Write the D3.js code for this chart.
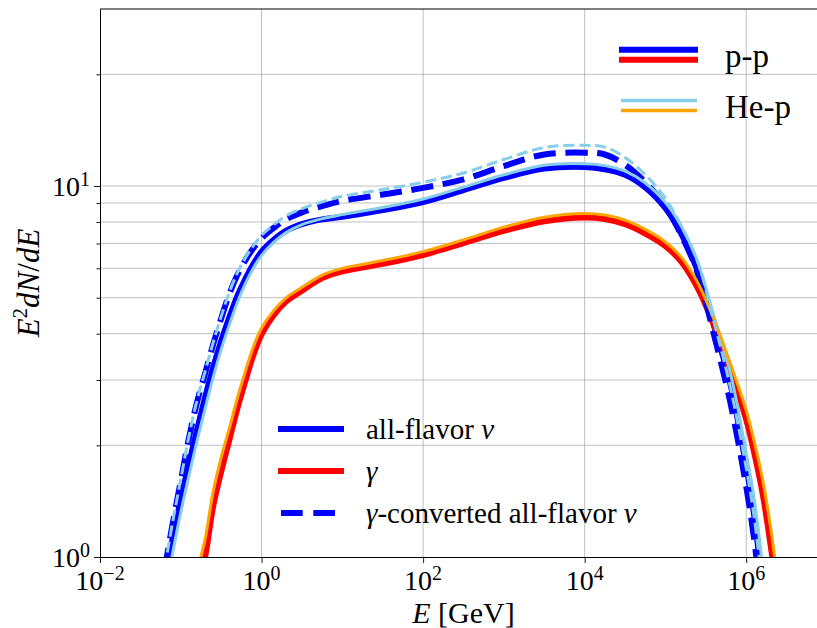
<!DOCTYPE html>
<html><head><meta charset="utf-8">
<script src="https://cdn.jsdelivr.net/npm/d3@7"></script>
<style>
body{margin:0;background:#fff}
svg{display:block}
text{font-family:"Liberation Serif","DejaVu Serif",serif;fill:#000}
</style>
</head><body>
<svg id="chart" width="817" height="628"></svg>
<script>
// ---------------- data ----------------
const energyGeV = [0.0631, 0.0794, 0.1, 0.126, 0.158, 0.2, 0.251, 0.316, 0.398, 0.501, 0.631, 0.794, 1,
  1.413, 1.995, 3.162, 5.623, 10, 31.62, 100, 316.2, 1000, 3162, 1e4,
  17783, 31623, 56234, 1e5, 158489, 251189, 398107, 630957, 1e6, 1258925, 1584893, 1995262, 2511886];

const ppNu = [0.881, 1.122, 1.429, 1.778, 2.188, 2.692, 3.236, 3.819, 4.416, 5.047, 5.623, 6.166, 6.653,
  7.161, 7.568, 7.889, 8.128, 8.260, 8.610, 9.057, 9.750, 10.52, 11.14, 11.25,
  11.09, 10.72, 9.91, 8.71, 7.41, 5.89, 4.217, 2.951, 1.758, 1.288, 0.832, null, null];

const ppGamma = [null, null, null, null, 0.794, 1.000, 1.365, 1.698, 2.065, 2.512, 2.985, 3.508, 3.981,
  4.487, 4.875, 5.224, 5.649, 5.888, 6.166, 6.516, 7.015, 7.568, 8.035, 8.222,
  8.147, 7.889, 7.447, 6.887, 6.237, 5.309, 4.217, 3.199, 2.344, 1.905, 1.496, 1.084, 0.741];

const ppGammaNu = [0.923, 1.230, 1.603, 2.089, 2.600, 3.126, 3.733, 4.395, 5.105, 5.754, 6.310, 6.808, 7.228,
  7.709, 8.128, 8.492, 8.831, 9.120, 9.484, 9.886, 10.42, 11.32, 12.16, 12.30,
  12.16, 11.40, 10.23, 8.81, 7.35, 5.82, 3.98, 2.63, 1.549, 1.109, 0.708, null, null];

const heNu = [0.803, 1.028, 1.318, 1.652, 2.042, 2.512, 3.041, 3.622, 4.217, 4.853, 5.458, 6.012, 6.501,
  7.047, 7.482, 7.870, 8.166, 8.375, 8.750, 9.226, 9.931, 10.72, 11.38, 11.48,
  11.35, 10.96, 10.19, 9.02, 7.76, 6.24, 4.467, 3.162, 1.905, 1.429, 0.955, 0.603, null];

const heGamma = [null, null, null, null, 0.912, 1.117, 1.496, 1.854, 2.218, 2.679, 3.170, 3.690, 4.140,
  4.613, 4.989, 5.333, 5.754, 5.998, 6.295, 6.653, 7.161, 7.745, 8.241, 8.433,
  8.356, 8.091, 7.638, 7.063, 6.412, 5.483, 4.375, 3.342, 2.483, 2.042, 1.629, 1.208, 0.832];

const heGammaNu = [0.934, 1.244, 1.622, 2.113, 2.630, 3.162, 3.776, 4.446, 5.164, 5.83, 6.40, 6.91, 7.36,
  7.86, 8.30, 8.69, 9.06, 9.38, 9.78, 10.24, 10.84, 11.79, 12.70, 12.87,
  12.73, 11.94, 10.73, 9.26, 7.78, 6.24, 4.31, 2.89, 1.738, 1.274, 0.832, null, null];

const xTickValues = [1e-2, 1, 1e2, 1e4, 1e6];
const xTickExponents = ["\u22122", "0", "2", "4", "6"];
const yTickValues = [1, 10];
const yTickExponents = ["0", "1"];
const yMinorTicks = [2, 3, 4, 5, 6, 7, 8, 9, 20];

// ---------------- layout ----------------
const svg = d3.select("#chart");
const L = 100, R = 827, T = 9, B = 557;
const x = d3.scaleLog().domain([1e-2, 1e7]).range([L, R]);
const y = d3.scaleLog().domain([1, 30]).range([B, T]);

svg.append("defs").append("clipPath").attr("id", "plotclip")
  .append("rect").attr("x", L).attr("y", T).attr("width", R - L).attr("height", B - T);

// grid
const grid = svg.append("g").attr("stroke", "#b0b0b0").attr("stroke-width", 0.8);
grid.selectAll(".gx").data(xTickValues.slice(1)).join("line")
  .attr("x1", d => x(d)).attr("x2", d => x(d)).attr("y1", T).attr("y2", B);
grid.selectAll(".gy").data(yMinorTicks.concat([10])).join("line")
  .attr("y1", d => y(d)).attr("y2", d => y(d)).attr("x1", L).attr("x2", R);

// curves
const line = d3.line()
  .defined(d => d[1] != null)
  .x(d => x(d[0])).y(d => y(d[1]))
  .curve(d3.curveCatmullRom.alpha(0.5));

const series = [
  {vals: ppNu, color: "#0000ff", w: 6, dash: null},
  {vals: ppGamma, color: "#ff0000", w: 6, dash: null},
  {vals: ppGammaNu, color: "#0000ff", w: 6, dash: "22.2,9.6"},
  {vals: heNu, color: "#87ceeb", w: 3, dash: null},
  {vals: heGamma, color: "#ffa500", w: 3, dash: null},
  {vals: heGammaNu, color: "#87ceeb", w: 3, dash: "11.1,4.8"}
];
const cg = svg.append("g").attr("clip-path", "url(#plotclip)");
series.forEach(s => {
  cg.append("path")
    .attr("d", line(energyGeV.map((e, i) => [e, s.vals[i]])))
    .attr("fill", "none").attr("stroke", s.color).attr("stroke-width", s.w)
    .attr("stroke-linejoin", "round")
    .attr("stroke-dasharray", s.dash);
});

// axes
const xAxis = svg.append("g").attr("transform", `translate(0,${B})`)
  .call(d3.axisBottom(x).tickValues(xTickValues).tickSize(6).tickSizeOuter(0).tickFormat(() => ""));
const yAxis = svg.append("g").attr("transform", `translate(${L},0)`)
  .call(d3.axisLeft(y).tickValues(yTickValues).tickSize(6).tickSizeOuter(0).tickFormat(() => ""));
const yMinor = svg.append("g").attr("transform", `translate(${L},0)`)
  .call(d3.axisLeft(y).tickValues(yMinorTicks).tickSize(3.5).tickSizeOuter(0).tickFormat(() => ""));
yMinor.select(".domain").remove();
[xAxis, yAxis, yMinor].forEach(g => {
  g.selectAll("line").attr("stroke", "#000").attr("stroke-width", 0.9);
  g.select(".domain").attr("stroke", "#000").attr("stroke-width", 1);
  g.selectAll("text").remove();
});
svg.append("line").attr("x1", L).attr("x2", R).attr("y1", T).attr("y2", T)
  .attr("stroke", "#000").attr("stroke-width", 1);
svg.append("line").attr("x1", R).attr("x2", R).attr("y1", T).attr("y2", B)
  .attr("stroke", "#000").attr("stroke-width", 1);

// tick labels
function powerLabel(g, px, py, exp, anchor) {
  const t = g.append("text").attr("x", px).attr("y", py).attr("font-size", 28).attr("text-anchor", anchor);
  t.append("tspan").text("10");
  t.append("tspan").attr("font-size", 20).attr("dy", -10).text(exp);
}
xTickValues.forEach((v, i) => powerLabel(svg, x(v), 590, xTickExponents[i], "middle"));
yTickValues.forEach((v, i) => powerLabel(svg, 90, y(v) + 10, yTickExponents[i], "end"));

// axis labels
const xl = svg.append("text").attr("x", (L + R) / 2).attr("y", 623).attr("font-size", 30).attr("text-anchor", "middle");
xl.append("tspan").attr("font-style", "italic").text("E");
xl.append("tspan").text(" [GeV]");

const yl = svg.append("text").attr("transform", `translate(39,${(T + B) / 2}) rotate(-90)`)
  .attr("font-size", 31).attr("text-anchor", "middle");
yl.append("tspan").attr("font-style", "italic").text("E");
yl.append("tspan").attr("font-size", 21).attr("dy", -12).text("2");
yl.append("tspan").attr("font-style", "italic").attr("dy", 12).text("dN");
yl.append("tspan").text("/");
yl.append("tspan").attr("font-style", "italic").text("dE");

// legend: collisions
const leg1 = svg.append("g");
[[619, 698, 49.7, "#0000ff", 6], [619, 698, 59.7, "#ff0000", 6],
 [621, 697, 100.5, "#87ceeb", 3.3], [621, 697, 110.5, "#ffa500", 3.3]].forEach(d => {
  leg1.append("line").attr("x1", d[0]).attr("x2", d[1]).attr("y1", d[2]).attr("y2", d[2])
    .attr("stroke", d[3]).attr("stroke-width", d[4]);
});
leg1.append("text").attr("x", 725).attr("y", 67).attr("font-size", 33).text("p-p");
leg1.append("text").attr("x", 725).attr("y", 118).attr("font-size", 33).text("He-p");

// legend: messengers
const leg2 = svg.append("g");
leg2.append("line").attr("x1", 278).attr("x2", 344).attr("y1", 429).attr("y2", 429)
  .attr("stroke", "#0000ff").attr("stroke-width", 6);
leg2.append("line").attr("x1", 278).attr("x2", 344).attr("y1", 471).attr("y2", 471)
  .attr("stroke", "#ff0000").attr("stroke-width", 6);
leg2.append("line").attr("x1", 281).attr("x2", 335).attr("y1", 513).attr("y2", 513)
  .attr("stroke", "#0000ff").attr("stroke-width", 6).attr("stroke-dasharray", "21.7,10.6");
const t1 = leg2.append("text").attr("x", 366).attr("y", 439).attr("font-size", 29);
t1.append("tspan").text("all-flavor ");
t1.append("tspan").attr("font-style", "italic").text("ν");
const t2 = leg2.append("text").attr("x", 366).attr("y", 481).attr("font-size", 29);
t2.append("tspan").attr("font-style", "italic").text("γ");
const t3 = leg2.append("text").attr("x", 366).attr("y", 523).attr("font-size", 29);
t3.append("tspan").attr("font-style", "italic").text("γ");
t3.append("tspan").text("-converted all-flavor ");
t3.append("tspan").attr("font-style", "italic").text("ν");
</script>
</body></html>
